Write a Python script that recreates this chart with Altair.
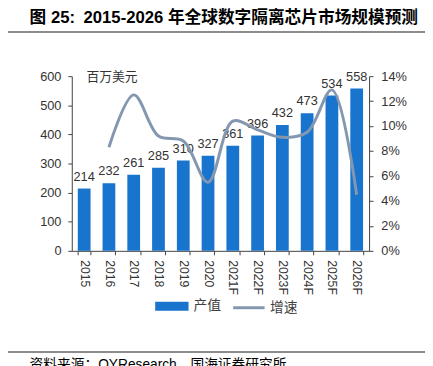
import altair as alt
import pandas as pd

years = ["2015", "2016", "2017", "2018", "2019", "2020",
         "2021F", "2022F", "2023F", "2024F", "2025F", "2026F"]
values = [214, 232, 261, 285, 310, 327, 361, 396, 432, 473, 534, 558]
growth = [None, 0.083, 0.125, 0.092, 0.088, 0.055, 0.104, 0.097, 0.091, 0.095, 0.129, 0.045]
value_ticks = [0, 100, 200, 300, 400, 500, 600]
pct_ticks = [0, 0.02, 0.04, 0.06, 0.08, 0.10, 0.12, 0.14]
series_bar = "产值"
series_line = "增速"

title_lead = "图 25:"
title_text = "2015-2026 年全球数字隔离芯片市场规模预测"
unit_text = "百万美元"
source_text = "资料来源：QYResearch，国海证券研究所"

df = pd.DataFrame({"year": years, "value": values, "growth": growth,
                   "s_bar": [series_bar] * len(years), "s_line": [series_line] * len(years)})
one = pd.DataFrame({"k": [0]})

FONT = "Liberation Sans, Arial, Noto Sans CJK SC"
CJK = "Noto Sans CJK SC"
BAR = "#1874CD"
LINE = "#8497B0"
AX = "#404040"
TXT = "#333333"

x = alt.X("year:N", sort=years,
          scale=alt.Scale(paddingInner=0.485),
          axis=alt.Axis(title=None, labelAngle=90, labelFont=FONT, labelFontSize=12.5,
                        labelColor=TXT, domainColor=AX, tickColor=AX, tickBand="extent",
                        tickSize=4, labelPadding=5))

base = alt.Chart(df)

bars = base.mark_bar().encode(
    x=x,
    y=alt.Y("value:Q", scale=alt.Scale(domain=[0, 600]),
            axis=alt.Axis(title=None, orient="left", values=value_ticks, labelFont=FONT,
                          labelFontSize=13, labelColor=TXT, domainColor=AX, tickColor=AX,
                          tickSize=4, labelPadding=7)),
    color=alt.Color("s_bar:N", scale=alt.Scale(domain=[series_bar], range=[BAR]),
                    legend=alt.Legend(orient="none", legendX=85, legendY=217.5, title=None,
                                      symbolType="M-1,-0.27H1V0.27H-1Z", symbolSize=1156,
                                      symbolStrokeWidth=0, labelFont=CJK, labelFontSize=14,
                                      labelColor=AX, padding=0, labelOffset=5)),
)

labels = base.mark_text(dy=-8, baseline="alphabetic", font=FONT, fontSize=13, color=TXT).encode(
    x=x,
    y=alt.Y("value:Q", scale=alt.Scale(domain=[0, 600]), axis=None),
    text="value:Q",
)

line = base.mark_line(interpolate="catmull-rom", strokeWidth=3).encode(
    x=x,
    y=alt.Y("growth:Q", scale=alt.Scale(domain=[0, 0.14]),
            axis=alt.Axis(title=None, orient="right", values=pct_ticks, format=".0%",
                          labelFont=FONT, labelFontSize=13, labelColor=TXT, domainColor=AX,
                          tickColor=AX, tickSize=4, labelPadding=8)),
    stroke=alt.Stroke("s_line:N", scale=alt.Scale(domain=[series_line], range=[LINE]),
                      legend=alt.Legend(orient="none", legendX=163, legendY=218.5, title=None,
                                        symbolType="stroke", symbolSize=1024,
                                        symbolStrokeWidth=3, labelFont=CJK, labelFontSize=14,
                                        labelColor=AX, padding=0, labelOffset=4)),
)

title1 = alt.Chart(one).mark_text(align="left", baseline="alphabetic", font=FONT,
                                  fontSize=17, fontWeight="bold", color="#000000").encode(
    x=alt.value(-43), y=alt.value(-54), text=alt.value(title_lead))

title2 = alt.Chart(one).mark_text(align="left", baseline="alphabetic", font=FONT,
                                  fontSize=17, fontWeight="bold", color="#000000").encode(
    x=alt.value(12), y=alt.value(-54), text=alt.value(title_text))

top_rule = alt.Chart(one).mark_rule(color="#8c8c8c", strokeWidth=2).encode(
    x=alt.value(-73), x2=alt.value(360), y=alt.value(-45))

bottom_rule = alt.Chart(one).mark_rule(color="#666666", strokeWidth=1.5).encode(
    x=alt.value(-73), x2=alt.value(360), y=alt.value(281))

unit = alt.Chart(one).mark_text(align="left", baseline="middle", font=CJK,
                                fontSize=13, color=TXT).encode(
    x=alt.value(15), y=alt.value(1), text=alt.value(unit_text))

source = alt.Chart(one).mark_text(align="left", baseline="alphabetic", font=FONT,
                                  fontSize=14, color="#000000").encode(
    x=alt.value(-43), y=alt.value(298), text=alt.value(source_text))

chart = alt.layer(bars, labels, line, title1, title2, top_rule, bottom_rule, unit, source).resolve_scale(
    y="independent"
).properties(
    width=303, height=178,
    autosize=alt.AutoSizeParams(type="none"),
    padding={"left": 65, "top": 66, "right": 57, "bottom": 120},
).configure_view(stroke=None).configure_axis(grid=False)

chart.save("out.html", embed_options={"renderer": "svg", "actions": False})
